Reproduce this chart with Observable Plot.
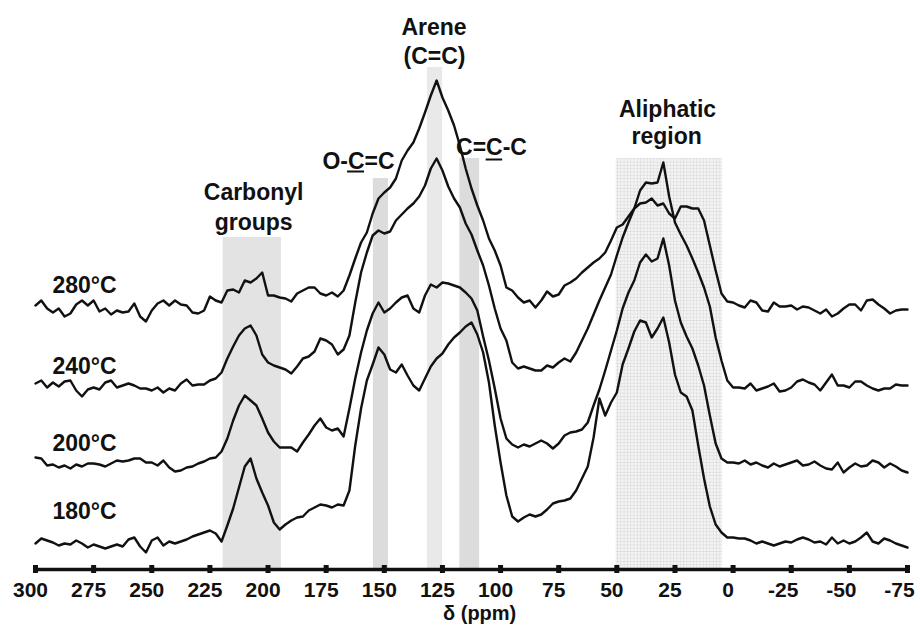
<!DOCTYPE html>
<html><head><meta charset="utf-8">
<script src="https://cdn.jsdelivr.net/npm/d3@7"></script>
<script src="https://cdn.jsdelivr.net/npm/@observablehq/plot@0.6"></script>
<style>
html,body{margin:0;padding:0;background:#fff;}
#chart svg{display:block;}
</style></head><body><div id="chart"></div>
<script>
// ---- data ----
const temps = ["280°C", "240°C", "200°C", "180°C"];
const offsets = [261, 183, 105, 26];           // stacking offset of each spectrum
const ppmStart = 300, ppmStep = 2.5;            // sampling of the chemical-shift axis

const s280 = [3,8,0,-4,0,-8,-5,4,8,3,
 8,-3,0,-6,-2,-4,-3,5,-8,-13,
 -2,5,8,3,8,4,3,-4,-5,-2,
 12,8,6,18,19,16,28,26,30,36,
 13,13,11,10,7,15,18,21,21,15,
 13,16,12,18,33,50,66,76,95,110,
 116,121,130,148,158,166,180,196,213,228,
 211,198,183,163,140,120,103,88,70,58,
 43,21,18,11,6,8,1,8,17,12,
 14,23,26,30,36,41,46,50,56,68,
 81,84,92,100,105,106,110,103,105,95,
 90,102,102,100,100,88,63,38,15,7,
 6,3,1,8,6,-2,-3,6,2,2,
 3,-1,2,1,-2,-5,-1,-8,-5,0,
 4,4,-2,8,9,4,0,-5,-2,-1,
 -1];
const s240 = [3,6,-1,4,0,5,6,-4,-10,-3,
 -1,-3,4,6,-1,1,3,1,-2,-2,
 -4,-1,-6,-2,-4,3,7,1,2,2,
 6,8,14,28,40,51,58,61,51,32,
 24,21,19,17,13,20,28,30,35,48,
 46,42,32,37,51,84,114,134,151,156,
 153,155,166,172,178,183,190,201,218,228,
 216,200,188,179,163,152,136,121,101,78,
 58,46,24,18,20,18,16,16,21,19,
 24,28,25,34,46,58,72,86,99,112,
 131,149,164,178,196,204,203,204,224,190,
 164,152,141,128,114,99,80,49,26,6,
 -1,-1,-2,3,-4,-2,0,3,-5,-4,
 -1,5,7,4,2,-4,4,12,1,1,
 -1,5,5,1,-2,-4,-2,-2,2,1,
 1];
const s200 = [7,6,-1,0,-3,-1,-4,0,-2,1,
 1,0,-2,1,4,3,4,6,6,2,
 2,-1,4,-3,-7,-6,-3,-2,1,3,
 6,7,13,26,44,59,69,64,59,46,
 32,23,17,17,17,13,22,30,39,46,
 37,34,36,28,56,86,112,134,151,162,
 152,156,162,167,169,156,152,169,180,177,
 182,181,179,177,172,166,154,128,104,76,
 46,26,20,17,20,18,21,24,21,16,
 21,29,32,33,35,42,59,75,94,114,
 134,156,172,184,202,210,203,206,226,199,
 164,142,128,116,99,79,49,21,6,2,
 2,1,4,0,2,-1,-3,1,-2,0,
 2,4,-1,0,3,-1,-4,-5,2,-8,
 -3,1,-2,-1,4,2,-3,1,-2,-6,
 -8];
const s180 = [0,5,3,1,-2,0,-1,3,0,-4,
 -1,-3,-5,-3,-1,-3,4,6,-3,-9,
 3,6,-2,2,0,2,4,7,9,11,
 13,10,2,18,35,56,77,85,65,51,
 38,21,14,19,23,26,27,33,36,39,
 38,36,39,38,53,98,135,163,179,196,
 189,174,171,179,168,158,153,165,177,185,
 190,199,206,211,217,221,209,191,161,118,
 81,48,27,22,26,29,27,29,34,40,
 42,43,45,53,65,77,106,145,128,141,
 151,179,195,212,223,221,206,215,226,201,
 169,151,147,133,98,65,37,19,11,6,
 6,5,5,3,0,2,0,-2,0,2,
 1,4,6,4,1,2,-1,6,0,3,
 0,2,6,11,2,0,5,3,0,-2,
 -4];
const series = [s280, s240, s200, s180];

const ticks = [300, 275, 250, 225, 200, 175, 150, 125, 100, 75, 50, 25, 0, -25, -50, -75];

const regionNames = ["Carbonyl groups", "O-C=C", "Arene (C=C)", "C=C-C", "Aliphatic region"];
const regionFrom  = [219.3, 154.7, 131.4, 117.5, 50.3];
const regionTo    = [194.2, 148.2, 124.9, 109.0, 4.5];
const regionTop   = [332, 391, 502, 411, 411];
const regionFill  = ["#e3e3e3", "#dcdcdc", "#e9e9e9", "#dcdcdc", "url(#gridpat)"];

const labelText = ["Carbonyl", "groups", "O-C=C", "Arene", "(C=C)", "C=C-C", "Aliphatic", "region"];
const labelPpm  = [206.2, 206.2, 161.1, 128.6, 128.4, 103.9, 28.2, 28.6];
const labelVal  = [377, 347, 408, 542, 513, 422, 460, 433];

const underlineFrom = [165.8, 106.2];
const underlineTo   = [158.5, 99.1];
const underlineVal  = [398, 410];

const tempLabelPpm = 292.7;
const tempLabelVal = [284, 203, 126, 58];

const axisTitle = "δ (ppm)";

// ---- build tables ----
const spectra = temps.flatMap((t, k) =>
  series[k].map((r, i) => ({temp: t, ppm: ppmStart - ppmStep * i, v: offsets[k] + r})));
const regions = regionNames.map((n, i) => ({name: n, x1: regionFrom[i], x2: regionTo[i], top: regionTop[i], fill: regionFill[i]}));
const labels = labelText.map((t, i) => ({t, ppm: labelPpm[i], v: labelVal[i]}));
const underlines = underlineFrom.map((a, i) => ({a, b: underlineTo[i], v: underlineVal[i]}));
const tempLabels = temps.map((t, i) => ({t, ppm: tempLabelPpm, v: tempLabelVal[i]}));

const font = "'Liberation Sans', Arial, Helvetica, sans-serif";

const chart = Plot.plot({
  width: 920,
  height: 626,
  marginTop: 0, marginBottom: 57, marginLeft: 0, marginRight: 0,
  x: {domain: [300, -75], range: [35, 907], axis: null},
  y: {domain: [0, 569], axis: null},
  style: {fontFamily: font, background: "#fff", overflow: "visible"},
  marks: [
    ...regions.map(r => Plot.rect([r], {x1: "x1", x2: "x2", y1: () => 0, y2: "top", fill: r.fill})),
    Plot.line(spectra, {x: "ppm", y: "v", z: "temp", stroke: "#111", strokeWidth: 2.4, strokeLinejoin: "round", strokeLinecap: "round"}),
    Plot.ruleY([{a: 300, b: -75}], {y: () => 0, x1: "a", x2: "b", stroke: "#111", strokeWidth: 3.5}),
    Plot.ruleX(ticks, {x: d => d, y1: () => -4, y2: () => 4, stroke: "#111", strokeWidth: 5}),
    Plot.text(ticks.filter(d => d >= 0), {x: d => d, y: () => -21, dx: -5, text: d => String(d), fontSize: 21, fontWeight: "bold", fill: "#111"}),
    Plot.text(ticks.filter(d => d < 0), {x: d => d, y: () => -21, dx: -8, text: d => String(d), fontSize: 21, fontWeight: "bold", fill: "#111"}),
    Plot.text([axisTitle], {x: () => 109, y: () => -44, text: d => d, fontSize: 20, fontWeight: "bold", fill: "#111"}),
    Plot.text(labels, {x: "ppm", y: "v", text: "t", fontSize: 23, fontWeight: "bold", fill: "#111"}),
    Plot.ruleY(underlines, {y: "v", x1: "a", x2: "b", stroke: "#111", strokeWidth: 2}),
    Plot.text(tempLabels, {x: "ppm", y: "v", text: "t", textAnchor: "start", fontSize: 23, fontWeight: "bold", fill: "#111"})
  ]
});

// grid pattern for the aliphatic region
const defs = d3.select(chart).insert("defs", ":first-child");
const pat = defs.append("pattern").attr("id", "gridpat").attr("patternUnits", "userSpaceOnUse")
  .attr("width", 3.3).attr("height", 3.3);
pat.append("rect").attr("width", 3.3).attr("height", 3.3).attr("fill", "#f4f4f4");
pat.append("path").attr("d", "M0 0H3.3M0 0V3.3").attr("stroke", "#c9c9c9").attr("stroke-width", 0.7).attr("fill", "none");

document.getElementById("chart").appendChild(chart);
</script>
</body></html>
